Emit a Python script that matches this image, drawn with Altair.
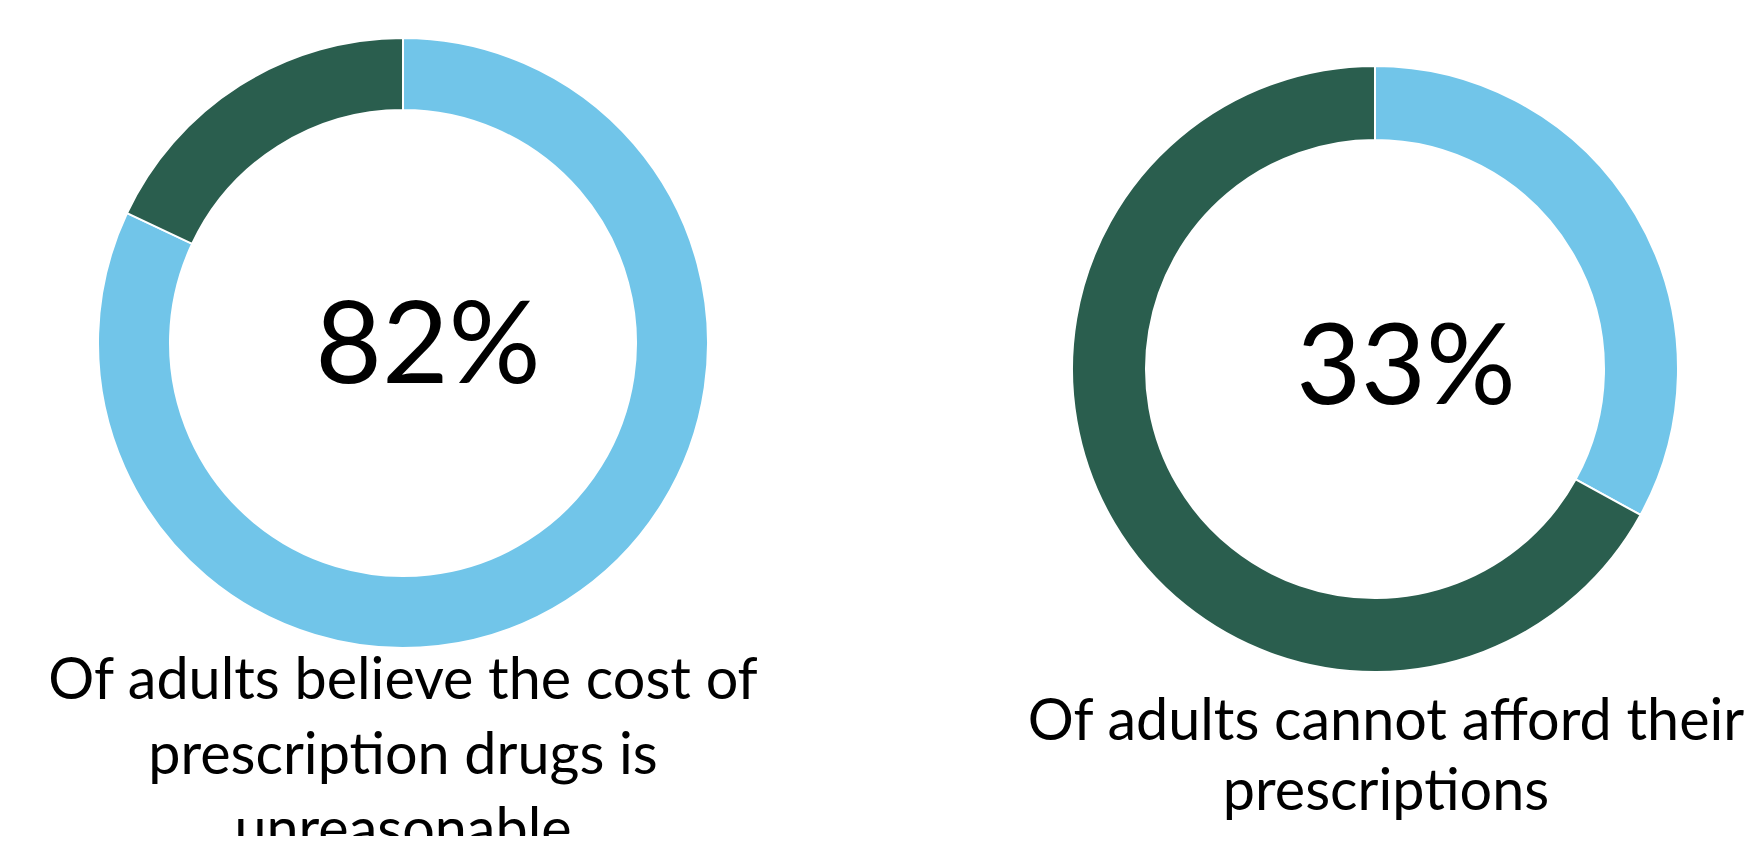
import altair as alt
import pandas as pd

# Data
left_labels = ["Yes", "No"]
left_values = [82, 18]
right_labels = ["Yes", "No"]
right_values = [33, 67]
center_texts = ["82%", "33%"]
captions = [
    "Of adults believe the cost of\nprescription drugs is\nunreasonable",
    "Of adults cannot afford their\nprescriptions",
]

LIGHT = "#71C5E9"
DARK = "#2A5E4E"
FONT = "Lato"

color_scale = alt.Scale(domain=["Yes", "No"], range=[LIGHT, DARK])


def donut(labels, values, cx, cy, r_in, r_out):
    df = pd.DataFrame({"label": labels, "value": values, "idx": list(range(len(labels)))})
    return (
        alt.Chart(df)
        .mark_arc(innerRadius=r_in, outerRadius=r_out, stroke="white", strokeWidth=2)
        .encode(
            theta=alt.Theta("value:Q", stack=True, scale=alt.Scale(domain=[0, 100])),
            color=alt.Color("label:N", scale=color_scale, legend=None),
            order=alt.Order("idx:Q"),
            x=alt.value(cx),
            y=alt.value(cy),
        )
    )


def label(text, x, y, size, line_height=None):
    df = pd.DataFrame({"t": [text]})
    kw = dict(fontSize=size, font=FONT, color="black", align="center", baseline="alphabetic")
    if line_height is not None:
        kw.update(lineBreak="\n", lineHeight=line_height)
    return alt.Chart(df).mark_text(**kw).encode(text="t:N", x=alt.value(x), y=alt.value(y))


left = donut(left_labels, left_values, 395, 335, 233, 305)
right = donut(right_labels, right_values, 1367, 361, 229, 303)

t1 = label(center_texts[0], 420, 375, 115)
t2 = label(center_texts[1], 1398, 396, 112)
c1 = label(captions[0], 395, 691, 57.5, 75)
c2 = label(captions[1], 1378, 732, 57.5, 70)

chart = (
    alt.layer(left, right, t1, t2, c1, c2)
    .resolve_scale(theta="independent")
    .properties(width=1736, height=828, padding=0, autosize=alt.AutoSizeParams(type="none"))
    .configure_view(stroke=None)
)

chart.save("out.html", embed_options={"renderer": "svg", "actions": False})
